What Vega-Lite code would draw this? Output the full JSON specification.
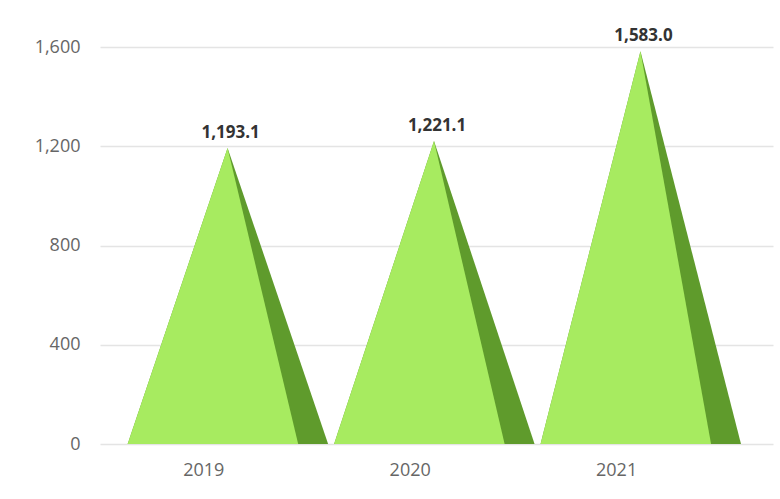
{
  "$schema": "https://vega.github.io/schema/vega-lite/v6.json",
  "autosize": {"type": "none"},
  "width": 673,
  "height": 397,
  "padding": {"left": 100, "top": 47, "right": 7, "bottom": 55},
  "background": "#ffffff",
  "view": {"stroke": null},
  "config": {"font": "Open Sans"},
  "data": {"values": [
    {"year": "2019", "value": 1193.1},
    {"year": "2020", "value": 1221.1},
    {"year": "2021", "value": 1583.0}
  ]},
  "transform": [
    {"calculate": "toNumber(datum.year) - 2019 + 0.5", "as": "center"}
  ],
  "layer": [
    {
      "transform": [
        {"calculate": "[-0.366, 0.118, 0.605]", "as": "off"},
        {"calculate": "[0, 1, 0]", "as": "h"},
        {"flatten": ["off", "h"]},
        {"calculate": "datum.center + datum.off", "as": "px"},
        {"calculate": "datum.value * datum.h", "as": "py"}
      ],
      "mark": {"type": "area", "color": "#5f9b2c", "interpolate": "linear"},
      "encoding": {
        "x": {"field": "px", "type": "quantitative", "scale": {"domain": [0, 3.26], "nice": false, "zero": false},
          "axis": {"values": [0.5, 1.5, 2.5], "labelExpr": "toString(2019 + floor(datum.value))", "grid": false, "domain": false, "ticks": false, "labelPadding": 17, "labelFontSize": 18, "labelColor": "#666666", "title": null}},
        "y": {"field": "py", "type": "quantitative", "stack": null, "scale": {"domain": [0, 1600], "nice": false},
          "axis": {"values": [0, 400, 800, 1200, 1600], "format": ",.0f", "grid": true, "gridColor": "#e4e4e4", "gridWidth": 1.5, "domain": false, "ticks": false, "labelPadding": 20, "labelFontSize": 18, "labelColor": "#666666", "title": null}},
        "detail": {"field": "year"}
      }
    },
    {
      "transform": [
        {"calculate": "[-0.366, 0.118, 0.46]", "as": "off"},
        {"calculate": "[0, 1, 0]", "as": "h"},
        {"flatten": ["off", "h"]},
        {"calculate": "datum.center + datum.off", "as": "px"},
        {"calculate": "datum.value * datum.h", "as": "py"}
      ],
      "mark": {"type": "area", "color": "#a7eb60", "interpolate": "linear"},
      "encoding": {
        "x": {"field": "px", "type": "quantitative"},
        "y": {"field": "py", "type": "quantitative", "stack": null},
        "detail": {"field": "year"}
      }
    },
    {
      "transform": [
        {"calculate": "datum.center + 0.118", "as": "px"}
      ],
      "mark": {"type": "text", "fontSize": 17, "fontWeight": "bold", "color": "#333333", "dy": -10, "dx": 3, "baseline": "alphabetic"},
      "encoding": {
        "x": {"field": "px", "type": "quantitative"},
        "y": {"field": "value", "type": "quantitative"},
        "text": {"field": "value", "type": "quantitative", "format": ",.1f"}
      }
    }
  ]
}
